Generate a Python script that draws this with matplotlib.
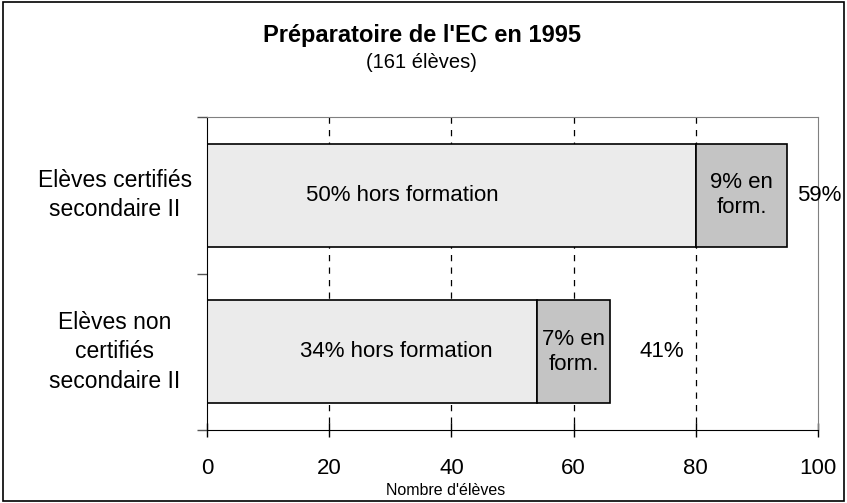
import matplotlib.pyplot as plt
from matplotlib.patches import Rectangle
from matplotlib.transforms import blended_transform_factory

plt.rcParams['font.family'] = ['Liberation Sans', 'DejaVu Sans']

# Data
categories = ["Elèves certifiés\nsecondaire II", "Elèves non\ncertifiés\nsecondaire II"]
hors_formation = [80, 54]
en_formation = [15, 12]
hors_labels = ["50% hors formation", "34% hors formation"]
en_labels = ["9% en\nform.", "7% en\nform."]
total_labels = ["59%", "41%"]
xticks = [0, 20, 40, 60, 80, 100]

fig = plt.figure(figsize=(8.47, 5.03), dpi=100)
ax = fig.add_axes([0.2444, 0.1451, 0.7214, 0.6223])

ypos = list(range(len(categories)))

# dashed gridlines behind bars
ax.vlines(xticks[1:-1], -0.5, 1.5, colors='black', linestyles=(0, (5, 5)),
          linewidth=0.9, zorder=1)

ax.barh(ypos, hors_formation, height=0.66, color='#ebebeb',
        edgecolor='black', linewidth=1.2, zorder=2)
ax.barh(ypos, en_formation, left=hors_formation, height=0.66, color='#c4c4c4',
        edgecolor='black', linewidth=1.2, zorder=2)

# bar labels
hors_x = [32, 31]
total_x = [100.2, 74.5]
for i in ypos:
    ax.text(hors_x[i], i, hors_labels[i], ha='center', va='center', fontsize=16, zorder=3)
    ax.text(hors_formation[i] + en_formation[i] / 2, i, en_labels[i],
            ha='center', va='center', fontsize=16, linespacing=1.25, zorder=3)
    ax.text(total_x[i], i, total_labels[i], ha='center', va='center', fontsize=16,
            zorder=3, clip_on=False)

ax.set_xlim(0, 100)
ax.set_ylim(1.5, -0.5)
ax.set_xticks(xticks)
ax.set_xticklabels([str(t) for t in xticks], fontsize=16)
ax.tick_params(axis='x', direction='inout', length=10, width=1, pad=15)
ax.set_yticks([-0.5, 0.5, 1.5])
ax.set_yticklabels([])
ax.tick_params(axis='y', direction='out', length=7, width=1, color='#555555')

# category labels
trans = blended_transform_factory(ax.transAxes, ax.transData)
for i, c in enumerate(categories):
    ax.text(-0.151, i, c, transform=trans, ha='center', va='center',
            fontsize=16.5, linespacing=1.35, multialignment='center')

ax.spines['top'].set_color('#808080')
ax.spines['right'].set_color('#808080')
ax.spines['left'].set_color('black')
ax.spines['bottom'].set_color('black')

ax.text(0.39, -0.193, "Nombre d'élèves", transform=ax.transAxes,
        ha='center', va='center', fontsize=11.5)

fig.text(0.498, 0.930, "Préparatoire de l'EC en 1995", ha='center', va='center',
         fontsize=17, fontweight='bold')
fig.text(0.498, 0.875, "(161 élèves)", ha='center', va='center', fontsize=14.5)

# outer frame
fig.patches.append(Rectangle((0.004, 0.004), 0.992, 0.992, transform=fig.transFigure,
                             fill=False, edgecolor='black', linewidth=1.2))

fig.savefig("out.png", dpi=100)
